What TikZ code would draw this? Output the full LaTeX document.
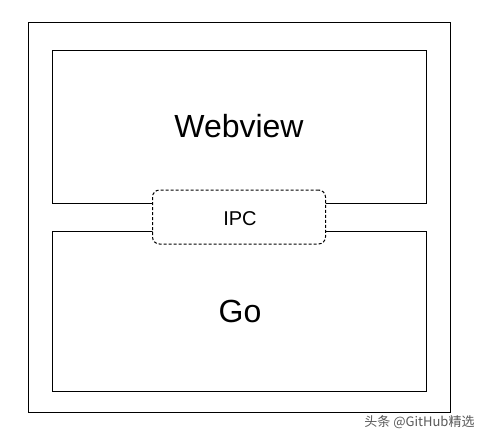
\documentclass[tikz,border=0pt]{standalone}
\usepackage{fontspec}
\setmainfont{Liberation Sans}
\newfontfamily\cjk{Noto Sans CJK SC}
\begin{document}
\begin{tikzpicture}[x=1pt,y=-1pt,
  box/.style={draw=black,line width=1pt},
  lbl/.style={inner sep=0pt,anchor=base}]
\useasboundingbox[fill=white] (0,0) rectangle (479,442);
\node[box,minimum width=422,minimum height=390,inner sep=0pt] (outer) at (239,217) {};
\node[box,minimum width=374,minimum height=153,inner sep=0pt] (web) at (239,126.5) {};
\node[box,minimum width=374,minimum height=160,inner sep=0pt] (go) at (239,311) {};
\node[draw=black,line width=1pt,dash pattern=on 3pt off 2pt,rounded corners=7pt,fill=white,minimum width=173,minimum height=54,inner sep=0pt] (ipc) at (239,217) {};
\node[lbl,font=\fontsize{32}{32}\selectfont] (tweb) at (239,137.5) {Webview};
\node[lbl,font=\fontsize{32}{32}\selectfont] (tgo) at (240,322.5) {Go};
\node[lbl,font=\fontsize{20}{20}\selectfont] (tipc) at (240,225) {IPC};
\node[inner sep=0pt,text=black!65,font=\cjk\fontsize{13}{13}\selectfont] (wm) at (419.5,422) {头条 @GitHub精选};
\end{tikzpicture}
\end{document}
